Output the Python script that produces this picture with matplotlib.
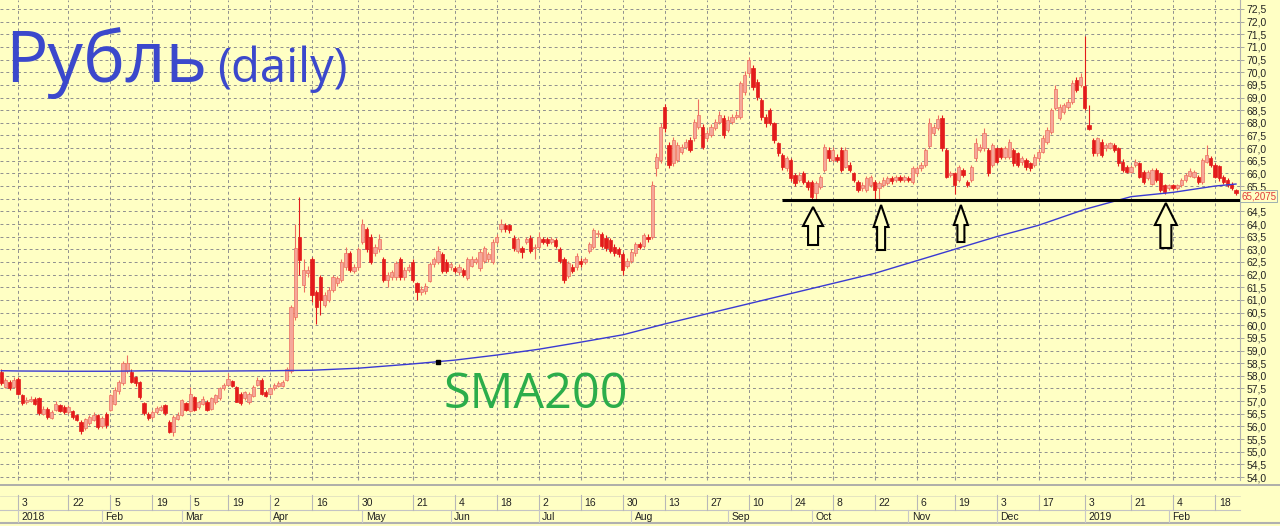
import numpy as np
import pandas as pd
import matplotlib
matplotlib.use("Agg")
import matplotlib.pyplot as plt
from matplotlib.patches import Polygon

# ---------------- data (USD/RUB daily candles) ----------------
opens = [
    58.16, 57.57, 57.77, 57.57,
    57.89, 57.24, 56.95, 57.00, 57.10, 57.11, 56.50, 56.68, 56.35, 56.65,
    56.85, 56.78, 56.55, 56.60, 56.45, 56.19, 55.92, 56.12, 56.25, 56.45,
    56.00, 56.50, 56.65, 56.90, 57.40, 57.70, 58.20, 58.16, 57.95, 57.77,
    56.91, 56.50, 56.38, 56.55, 56.65, 56.85, 56.19, 55.79, 56.30, 56.45,
    56.91, 56.60, 57.17, 56.75, 56.90, 56.98, 56.70, 56.95, 57.11, 57.50,
    57.63, 57.80, 57.57, 57.30, 57.11, 56.95, 57.20, 57.65, 57.83, 57.37,
    57.30, 57.50, 57.60, 57.60, 57.83, 58.20, 60.34, 63.50, 61.60, 62.05,
    62.60, 61.30, 61.90, 60.80, 61.00, 61.40, 61.65, 61.80, 62.30, 62.85,
    62.15, 62.30, 63.30, 63.80, 63.50, 62.85, 63.00, 62.60, 61.80, 61.90,
    61.90, 62.60, 61.90, 62.20, 62.50, 61.65, 61.30, 61.35, 61.75, 62.40,
    62.50, 62.80, 62.50, 62.30, 62.25, 62.10, 62.20, 61.85, 62.35, 62.50,
    62.25, 62.55, 62.60, 62.50, 63.30, 63.80, 63.95, 63.95, 63.45, 62.95,
    63.05, 63.30, 63.45, 63.05, 63.10, 63.40, 63.40, 63.30, 63.35, 63.00,
    62.60, 61.95, 62.30, 62.30, 62.55, 62.50, 62.95, 63.10, 63.60, 63.60,
    63.45, 63.35, 63.10, 63.00, 62.80, 62.35, 62.55, 62.85, 63.20, 63.15,
    63.50, 63.50, 66.20, 66.53, 68.64, 67.12, 66.40, 66.53, 66.86, 67.06,
    67.33, 67.39, 67.85, 67.85, 67.39, 67.52, 67.78, 68.04, 68.18, 67.72,
    68.04, 68.24, 68.24, 69.23, 69.96, 70.15, 69.63, 68.90, 68.24, 68.51,
    67.98, 67.19, 66.72, 66.20, 66.53, 65.94, 65.74, 66.00, 65.67, 65.67,
    65.21, 65.47, 66.13, 66.92, 66.53, 66.66, 66.92, 66.26, 66.33, 66.00,
    65.67, 65.41, 65.34, 65.54, 65.67, 65.41, 65.54, 65.61, 65.80, 65.74,
    65.87, 65.74, 65.80, 65.67, 66.00, 66.20, 66.33, 67.10, 67.60, 67.80,
    68.20, 66.92, 65.95, 66.00, 65.74, 66.13, 65.67, 65.74, 66.59, 66.92,
    67.00, 66.92, 66.33, 66.99, 66.99, 66.66, 66.66, 66.92, 66.79, 66.46,
    66.53, 66.40, 66.33, 66.59, 66.86, 67.25, 67.65, 68.60, 68.18, 68.44,
    68.64, 68.83, 69.69, 69.50, 69.45, 67.90, 67.33, 66.79, 67.26, 66.99,
    67.00, 67.12, 67.00, 66.46, 66.26, 66.07, 66.33, 66.40, 66.07, 65.81,
    65.60, 66.13, 66.00, 65.54, 65.41, 65.54, 65.41, 65.54, 65.74, 65.90,
    65.87, 65.87, 65.67, 66.46, 66.59, 66.33, 66.30, 65.87, 65.74, 65.60,
    65.35]

closes = [
    57.70, 57.83, 57.50, 57.83,
    57.30, 56.91, 57.05, 57.10, 56.90, 56.52, 56.70, 56.38, 56.58, 56.90,
    56.60, 56.58, 56.78, 56.38, 56.25, 55.80, 56.30, 56.38, 56.45, 55.99,
    56.32, 56.05, 57.24, 57.44, 57.75, 58.49, 58.50, 57.77, 57.70, 57.17,
    56.52, 56.32, 56.58, 56.71, 56.78, 56.52, 55.79, 56.38, 56.45, 57.04,
    56.65, 57.30, 56.65, 56.95, 57.10, 56.65, 57.11, 57.24, 57.50, 57.63,
    57.89, 57.60, 56.98, 56.91, 57.37, 57.30, 57.57, 57.83, 57.30, 57.20,
    57.50, 57.63, 57.70, 57.77, 58.25, 60.70, 63.04, 62.58, 62.20, 62.20,
    61.20, 60.70, 61.00, 61.20, 61.40, 61.90, 61.85, 62.50, 62.85, 62.20,
    62.30, 63.00, 64.00, 63.00, 62.50, 63.10, 63.40, 61.80, 62.00, 62.10,
    62.45, 61.90, 62.20, 62.30, 61.80, 61.30, 61.45, 61.55, 62.40, 62.60,
    62.95, 62.15, 62.15, 62.40, 62.15, 62.30, 62.00, 62.60, 62.60, 62.60,
    62.90, 63.05, 62.80, 63.30, 63.50, 64.00, 63.80, 63.75, 63.05, 63.40,
    62.90, 63.40, 62.95, 63.10, 63.50, 63.30, 63.25, 63.40, 63.15, 62.55,
    61.80, 62.45, 62.15, 62.75, 62.40, 62.60, 63.20, 63.75, 63.65, 63.15,
    63.05, 62.95, 62.85, 62.80, 62.20, 62.55, 62.90, 63.20, 63.10, 63.55,
    63.40, 65.55, 66.66, 67.85, 67.78, 66.33, 67.33, 67.12, 67.06, 67.25,
    66.92, 68.04, 68.31, 67.06, 67.59, 67.85, 68.04, 68.31, 67.52, 68.11,
    68.24, 68.31, 69.56, 69.90, 70.48, 69.43, 69.03, 68.24, 67.98, 67.98,
    67.33, 66.79, 66.26, 66.59, 65.80, 65.61, 65.94, 65.67, 65.47, 65.08,
    65.61, 65.87, 67.06, 66.59, 66.92, 66.53, 66.13, 66.92, 66.13, 65.74,
    65.34, 65.54, 65.80, 65.87, 65.34, 65.61, 65.74, 65.80, 65.70, 65.87,
    65.74, 65.87, 65.74, 66.20, 66.20, 66.33, 66.92, 68.00, 67.85, 68.15,
    67.00, 65.87, 66.00, 65.54, 66.26, 65.94, 65.54, 66.26, 67.19, 67.06,
    67.60, 66.00, 67.12, 66.46, 66.66, 66.99, 67.25, 66.40, 66.33, 66.59,
    66.26, 66.20, 66.66, 66.86, 67.39, 67.72, 68.50, 69.32, 68.64, 68.70,
    68.83, 69.56, 69.30, 69.82, 68.60, 67.75, 66.80, 67.39, 66.73, 67.12,
    67.19, 66.92, 66.40, 66.13, 66.07, 66.26, 66.46, 65.87, 65.67, 66.07,
    66.13, 65.74, 65.34, 65.28, 65.54, 65.41, 65.54, 65.74, 65.94, 66.10,
    66.07, 65.67, 66.53, 66.73, 66.33, 65.87, 65.80, 65.67, 65.54, 65.41,
    65.2075]

highs = [
    58.25, 57.90, 57.85, 57.95,
    57.95, 57.30, 57.15, 57.20, 57.15, 57.15, 56.80, 56.75, 56.65, 57.00,
    56.90, 56.85, 56.85, 56.65, 56.50, 56.25, 56.35, 56.45, 56.55, 56.50,
    56.40, 56.55, 57.30, 57.55, 57.85, 58.60, 58.82, 58.25, 58.00, 57.80,
    56.95, 56.55, 56.65, 56.80, 56.85, 56.90, 56.25, 56.45, 56.55, 57.10,
    56.95, 57.55, 57.20, 57.00, 57.20, 57.05, 57.15, 57.30, 57.55, 57.70,
    58.10, 57.85, 57.60, 57.35, 57.40, 57.35, 57.65, 57.95, 57.90, 57.45,
    57.55, 57.70, 57.78, 57.85, 58.35, 60.80, 64.00, 65.08, 62.60, 62.35,
    62.70, 61.40, 62.00, 61.30, 61.50, 62.00, 61.95, 62.60, 63.10, 62.95,
    62.40, 63.10, 64.20, 63.90, 63.60, 63.20, 63.60, 62.70, 62.10, 62.20,
    62.55, 62.70, 62.30, 62.40, 62.60, 61.70, 61.55, 61.65, 62.50, 62.70,
    63.15, 62.90, 62.60, 62.50, 62.35, 62.40, 62.25, 62.70, 62.75, 62.70,
    63.00, 63.15, 62.90, 63.40, 63.60, 64.20, 64.05, 64.00, 63.55, 63.50,
    63.15, 63.50, 63.55, 63.20, 63.70, 63.50, 63.50, 63.50, 63.45, 63.10,
    62.70, 62.55, 62.40, 62.85, 62.65, 62.70, 63.30, 63.85, 63.75, 63.70,
    63.55, 63.45, 63.20, 63.10, 62.90, 62.65, 63.00, 63.30, 63.30, 63.65,
    63.60, 65.70, 66.80, 68.00, 68.75, 67.25, 67.45, 67.25, 67.15, 67.35,
    67.45, 68.15, 68.96, 67.95, 67.70, 67.95, 68.15, 68.45, 68.30, 68.25,
    68.35, 68.45, 69.65, 70.05, 70.59, 70.30, 69.75, 69.00, 68.35, 68.60,
    68.05, 67.25, 66.80, 66.70, 66.60, 66.00, 66.05, 66.10, 65.75, 65.75,
    65.70, 65.95, 67.15, 67.05, 67.05, 66.75, 67.05, 67.05, 66.45, 66.05,
    65.75, 65.65, 65.90, 65.95, 65.75, 65.70, 65.85, 65.90, 65.90, 65.95,
    65.95, 65.95, 65.90, 66.30, 66.30, 66.45, 67.00, 68.20, 67.95, 68.30,
    68.30, 67.00, 66.10, 66.05, 66.35, 66.20, 65.75, 66.35, 67.39, 67.15,
    67.78, 67.00, 67.20, 67.05, 67.05, 67.10, 67.35, 67.00, 66.85, 66.70,
    66.60, 66.45, 66.75, 66.95, 67.50, 67.85, 68.60, 69.50, 68.75, 68.80,
    68.95, 69.70, 69.80, 69.95, 71.45, 68.70, 67.40, 67.45, 67.35, 67.20,
    67.25, 67.20, 67.05, 66.55, 66.35, 66.35, 66.55, 66.45, 66.15, 66.15,
    66.20, 66.20, 66.05, 65.60, 65.60, 65.60, 65.60, 65.80, 66.00, 66.20,
    66.15, 65.95, 66.60, 67.12, 66.70, 66.40, 66.35, 65.95, 65.80, 65.65,
    65.40]

lows = [
    57.65, 57.50, 57.45, 57.50,
    57.25, 56.85, 56.90, 56.95, 56.85, 56.45, 56.45, 56.30, 56.30, 56.60,
    56.55, 56.50, 56.50, 56.30, 56.20, 55.70, 55.85, 56.05, 56.20, 55.90,
    55.95, 55.95, 56.60, 56.85, 57.30, 57.65, 58.10, 57.70, 57.60, 57.10,
    56.45, 56.25, 56.30, 56.50, 56.60, 56.45, 55.72, 55.62, 56.25, 56.40,
    56.60, 56.55, 56.60, 56.70, 56.85, 56.60, 56.65, 56.90, 57.05, 57.45,
    57.60, 57.55, 56.95, 56.85, 57.05, 56.90, 57.15, 57.60, 57.25, 57.15,
    57.25, 57.45, 57.55, 57.55, 57.80, 58.10, 60.20, 62.00, 61.30, 61.90,
    60.90, 60.05, 60.40, 60.70, 60.90, 61.30, 61.55, 61.70, 62.20, 62.10,
    62.05, 62.20, 63.20, 62.90, 62.40, 62.75, 62.90, 61.70, 61.50, 61.80,
    61.80, 61.80, 61.80, 62.10, 61.70, 61.00, 61.20, 61.25, 61.70, 62.30,
    62.40, 62.05, 62.05, 62.20, 62.05, 62.00, 61.90, 61.80, 62.30, 62.40,
    62.15, 62.45, 62.50, 62.40, 63.20, 63.70, 63.70, 63.65, 62.95, 62.85,
    62.65, 63.20, 62.85, 62.60, 63.00, 63.20, 63.15, 63.20, 63.05, 62.45,
    61.65, 61.85, 62.05, 62.20, 62.30, 62.40, 62.85, 63.00, 63.50, 63.05,
    62.95, 62.85, 62.75, 62.70, 62.00, 62.25, 62.45, 62.75, 63.00, 63.05,
    63.30, 63.40, 65.90, 66.40, 67.65, 66.20, 66.30, 66.45, 66.75, 66.95,
    66.85, 67.30, 67.75, 66.95, 67.30, 67.45, 67.70, 67.95, 67.40, 67.65,
    67.95, 68.15, 68.15, 69.10, 69.85, 69.30, 68.90, 68.10, 67.85, 67.90,
    67.20, 66.70, 66.15, 66.10, 65.70, 65.50, 65.65, 65.60, 65.35, 64.95,
    65.00, 65.40, 66.05, 66.50, 66.45, 66.45, 66.05, 66.20, 66.05, 65.65,
    65.25, 65.30, 65.25, 65.45, 64.95, 65.00, 65.45, 65.55, 65.60, 65.65,
    65.65, 65.65, 65.65, 65.60, 65.90, 66.10, 66.25, 67.00, 67.50, 67.70,
    66.90, 65.80, 65.85, 65.20, 65.65, 65.85, 65.45, 65.65, 66.50, 66.85,
    66.90, 65.90, 66.25, 66.40, 66.55, 66.55, 66.55, 66.30, 66.25, 66.35,
    66.15, 66.10, 66.25, 66.50, 66.80, 67.15, 67.55, 68.50, 68.10, 68.35,
    68.55, 68.75, 69.20, 69.40, 68.50, 67.70, 66.70, 66.70, 66.65, 66.90,
    66.95, 66.85, 66.30, 66.05, 66.00, 66.00, 66.25, 65.80, 65.60, 65.75,
    65.55, 65.65, 65.25, 65.20, 65.35, 65.35, 65.35, 65.45, 65.65, 65.85,
    65.80, 65.60, 65.60, 66.40, 66.25, 65.80, 65.70, 65.60, 65.45, 65.35,
    65.15]

# trading calendar
first_day, last_day = "2017-12-26", "2019-02-25"
holidays = ["2018-01-01", "2018-01-02", "2018-01-08", "2018-02-23", "2018-03-08",
            "2018-05-01", "2018-05-09", "2018-06-12", "2018-11-05", "2018-12-31",
            "2019-01-01", "2019-01-02", "2019-01-07"]
working_saturdays = ["2018-04-28", "2018-06-09", "2018-12-29"]

# SMA200 read at the grid dates
sma_dates = ["2017-12-26", "2018-01-03", "2018-01-22", "2018-02-05", "2018-02-19",
             "2018-03-05", "2018-03-19", "2018-04-02", "2018-04-16", "2018-04-30",
             "2018-05-21", "2018-06-04", "2018-06-18", "2018-07-02", "2018-07-16",
             "2018-07-30", "2018-08-13", "2018-08-27", "2018-09-10", "2018-09-24",
             "2018-10-08", "2018-10-22", "2018-11-06", "2018-11-19", "2018-12-03",
             "2018-12-17", "2019-01-03", "2019-01-21", "2019-02-04", "2019-02-18",
             "2019-02-25"]
sma_values = [58.20, 58.19, 58.18, 58.18, 58.20, 58.18, 58.19, 58.20, 58.22, 58.30,
              58.47, 58.62, 58.82, 59.05, 59.33, 59.62, 60.05, 60.45, 60.85, 61.25,
              61.65, 62.05, 62.55, 63.00, 63.50, 63.95, 64.58, 65.08, 65.25, 65.50,
              65.58]

grid_dates = sma_dates[1:-1]
month_names = ["2018", "Feb", "Mar", "Apr", "May", "Jun", "Jul", "Aug", "Sep", "Oct",
               "Nov", "Dec", "2019", "Feb"]
y_ticks = np.arange(54.0, 72.51, 0.5)

support_level = 64.95
support_from = "2018-09-20"
arrow_dates = ["2018-10-01", "2018-10-23", "2018-11-20", "2019-01-31"]
last_price_text = "65,2075"

# ---------------- layout ----------------
W, H, DPI = 1280, 526, 100
BG = "#ffffc4"
PX_DAY = 4.2          # pixels per trading day
X0 = 18.0             # pixel of 2018-01-03
PX_RUB = 25.3         # pixels per rouble
AX_W, AX_H, BAND_H = 1240, 480, 46

dates = pd.bdate_range(first_day, last_day)
dates = dates.difference(pd.to_datetime(holidays)).union(pd.to_datetime(working_saturdays)).sort_values()
n = min(len(dates), len(closes))
dates = dates[:n]
o = np.array(opens[:n]); c = np.array(closes[:n]); h = np.array(highs[:n]); l = np.array(lows[:n])
base = dates.get_loc(pd.Timestamp("2018-01-03"))
x = np.arange(n) - base
pos = {d: i - base for i, d in enumerate(dates)}


def xi(d):
    return pos[pd.Timestamp(d)]


fig = plt.figure(figsize=(W / DPI, H / DPI), dpi=DPI)
fig.patch.set_facecolor(BG)
ax = fig.add_axes([0, BAND_H / H, AX_W / W, AX_H / H])
ax.set_facecolor(BG)
xmin = -X0 / PX_DAY
ax.set_xlim(xmin, xmin + AX_W / PX_DAY)
ymin = 54 - 3 / PX_RUB
ax.set_ylim(ymin, ymin + AX_H / PX_RUB)

for s in ["top", "left", "bottom"]:
    ax.spines[s].set_visible(False)
ax.spines["right"].set_color("#b0b0b0")
ax.spines["right"].set_linestyle((0, (1, 1)))

grid_x = [xi(d) for d in grid_dates]
ax.set_xticks(grid_x)
ax.tick_params(axis="x", direction="in", length=3, color="#999999", labelbottom=False)
ax.yaxis.tick_right()
ax.set_yticks(y_ticks)
# the 65,0 label is hidden behind the last-price box, as in the original
ax.set_yticklabels(["" if abs(v - 65.0) < 1e-6 else f"{v:.1f}".replace(".", ",") for v in y_ticks])
ax.tick_params(axis="y", direction="out", length=3, width=0.6, color="#999999",
               labelsize=7.5, pad=1.5, labelcolor="#222222")
for lab in ax.get_yticklabels():
    lab.set_family("Liberation Sans")
ax.grid(True, color="#8f8f8f", linestyle=(0, (3, 3)), linewidth=0.7)
ax.set_axisbelow(True)

# candles
UP_FACE, UP_EDGE, DN = "#f5a79a", "#ee6f60", "#e31b1b"
up = c >= o
ax.vlines(x[up], l[up], h[up], color=UP_EDGE, linewidth=0.8, zorder=3)
ax.vlines(x[~up], l[~up], h[~up], color=DN, linewidth=0.8, zorder=3)
body_lo = np.minimum(o, c)
body_h = np.maximum(np.abs(c - o), 0.04)
ax.bar(x[up], body_h[up], bottom=body_lo[up], width=0.72, color=UP_FACE,
       edgecolor=UP_EDGE, linewidth=0.5, zorder=4)
ax.bar(x[~up], body_h[~up], bottom=body_lo[~up], width=0.72, color=DN,
       edgecolor=DN, linewidth=0.5, zorder=4)

# SMA200
sx = [xi(d) for d in sma_dates]
ax.plot(sx, sma_values, color="#3a3ad2", linewidth=1.0, zorder=5)
mx = xi("2018-05-29")
ax.plot([mx], [np.interp(mx, sx, sma_values)], marker="s", ms=2.5, color="black", zorder=6)

# support line
ax.plot([xi(support_from), xmin + AX_W / PX_DAY], [support_level, support_level],
        color="black", linewidth=2.2, zorder=6, solid_capstyle="butt")


def px2v(py):
    return 54 + (477 - py) / PX_RUB


arrow_shapes = [  # (x offset in days, tip px, head base px, bottom px, head half px, shaft half px)
    (0.3, 207, 226, 245, 10, 5),
    (0.5, 205, 227, 250, 7.5, 4),
    (0.5, 205, 225, 242, 7, 3.5),
    (0.3, 203, 225, 248, 11, 5.5),
]
for d, (dx, tip, hb, bot, hh, sh) in zip(arrow_dates, arrow_shapes):
    xc = xi(d) + dx
    hw, sw = hh / PX_DAY, sh / PX_DAY
    pts = [(xc, px2v(tip)), (xc + hw, px2v(hb)), (xc + sw, px2v(hb)), (xc + sw, px2v(bot)),
           (xc - sw, px2v(bot)), (xc - sw, px2v(hb)), (xc - hw, px2v(hb))]
    ax.add_patch(Polygon(pts, closed=True, facecolor=BG, edgecolor="black",
                         linewidth=1.5, joinstyle="miter", zorder=7))

# ---------------- bottom date band ----------------
band = fig.add_axes([0, 0, 1, BAND_H / H])
band.set_facecolor(BG)
band.set_xlim(xmin, xmin + W / PX_DAY)
band.set_ylim(0, BAND_H)
band.axis("off")
xr = xmin + AX_W / PX_DAY
band.plot([xmin, xmin + W / PX_DAY], [41, 41], color="#a8a8a8", linewidth=1.3)
band.plot([xmin, xr], [16, 16], color="#c4c4c4", linewidth=0.8)
band.plot([xmin, xr], [30.5, 30.5], color="#e0e0c0", linewidth=0.6)
band.plot([xmin, xmin + W / PX_DAY], [3, 3], color="#b0b0b0", linewidth=1.5)
for d in grid_dates:
    gx = xi(d)
    band.plot([gx, gx], [16, 31], color="#b8b8b8", linewidth=0.8)
    band.text(gx + 0.9, 23, str(pd.Timestamp(d).day), fontsize=7.5, ha="left",
              va="center", family="Liberation Sans", color="#222222")
month_first = pd.Series(dates).groupby([dates.year, dates.month]).first()
month_first = [m for m in month_first if m >= pd.Timestamp("2018-01-01")]
for m, name in zip(month_first, month_names):
    gx = pos[m]
    band.plot([gx, gx], [4, 16], color="#c8c8c8", linewidth=0.8)
    band.text(gx + 0.8, 9.5, name, fontsize=7.5, ha="left", va="center",
              family="Liberation Sans", color="#222222")

# ---------------- texts ----------------
fig.text(5 / W, 1 - 82 / H, "Рубль", fontsize=51, color="#3b48cc",
         family=["Open Sans", "DejaVu Sans"], ha="left", va="baseline")
fig.text(217 / W, 1 - 82 / H, "(daily)", fontsize=34, color="#3b48cc",
         family=["Open Sans", "DejaVu Sans"], ha="left", va="baseline")
fig.text(444 / W, 1 - 408 / H, "SMA200", fontsize=35, color="#2bad4a",
         family=["Open Sans", "DejaVu Sans"], ha="left", va="baseline")
fig.text(1241 / W, 1 - 196 / H, last_price_text, fontsize=7.0, color="#e03a3a",
         family="Liberation Sans", ha="left", va="center", zorder=20,
         bbox=dict(boxstyle="square,pad=0.08", facecolor=BG, edgecolor="#9fb0b0", linewidth=0.7))

fig.savefig("out.png", dpi=DPI, facecolor=BG)
